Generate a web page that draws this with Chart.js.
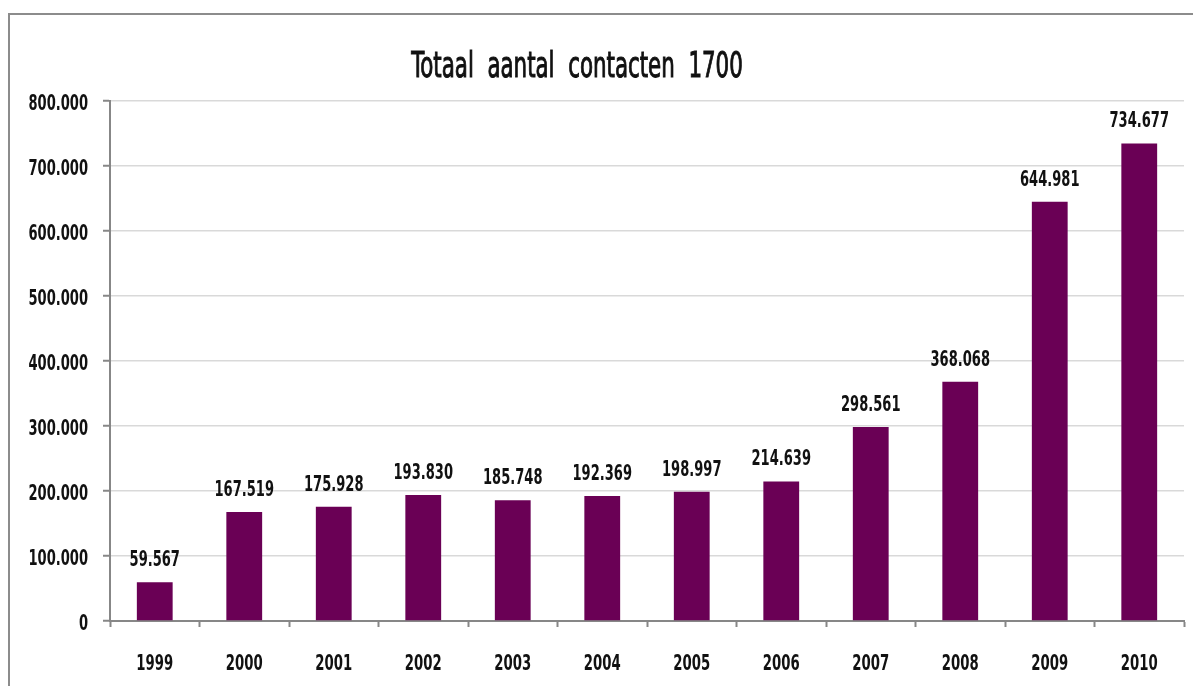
<!DOCTYPE html>
<html>
<head>
<meta charset="utf-8">
<script src="https://cdn.jsdelivr.net/npm/chart.js@4/dist/chart.umd.min.js"></script>
<style>
    html, body { margin: 0; padding: 0; background: #fff; }
    #wrap { position: relative; width: 1193px; height: 686px; overflow: hidden; }
    #frame {
        position: absolute; left: 8px; top: 13px;
        width: 1200px; height: 700px;
        border-left: 2px solid #8c8c8c; border-top: 2px solid #8c8c8c;
    }
    #chart { position: absolute; left: 0; top: 0; }
</style>
</head>
<body>
<div id="wrap">
    <div id="frame"></div>
    <canvas id="chart" width="1193" height="686"></canvas>
</div>
<script>
/* ================= DATA ================= */
const TITLE = "Totaal aantal contacten 1700";
const YEARS = ["1999", "2000", "2001", "2002", "2003", "2004",
               "2005", "2006", "2007", "2008", "2009", "2010"];
const CONTACTS = [59567, 167519, 175928, 193830, 185748, 192369,
                  198997, 214639, 298561, 368068, 644981, 734677];
const Y_TICKS = [0, 100000, 200000, 300000, 400000, 500000, 600000, 700000, 800000];

const FONT = "'DejaVu Sans Condensed', 'DejaVu Sans', sans-serif";
const BAR_COLOR = "#6a0055";
const AXIS_COLOR = "#878787";
const TEXT_COLOR = "#111";

// 800000 -> "800.000"
function fmt(v) {
    return String(Math.round(v)).replace(/\B(?=(\d{3})+(?!\d))/g, ".");
}

// squeezed text on the alphabetic baseline, gives a narrow typeface look
function narrowText(ctx, text, x, y, font, align, squeeze, stroke) {
    ctx.save();
    ctx.font = font + " " + FONT;
    ctx.fillStyle = TEXT_COLOR;
    ctx.strokeStyle = TEXT_COLOR;
    ctx.textAlign = align;
    ctx.textBaseline = "alphabetic";
    ctx.translate(x, y);
    ctx.scale(squeeze, 1);
    ctx.fillText(text, 0, 0);
    if (stroke) {
        ctx.lineWidth = stroke;
        ctx.strokeText(text, 0, 0);
    }
    ctx.restore();
}

/* ================= TEXT: TITLE, TICK LABELS, VALUE LABELS ================= */
const chartText = {
    id: "chartText",
    afterDraw(chart) {
        const ctx = chart.ctx;
        const xs = chart.scales.x;
        const ys = chart.scales.y;

        narrowText(ctx, TITLE.replace(/ /g, "  "), 577, 77, "36px", "center", 0.66, 1);

        Y_TICKS.forEach(v => {
            narrowText(ctx, fmt(v), xs.left - 22, ys.getPixelForValue(v) + 9,
                "bold 22px", "right", 0.66);
        });

        chart.data.labels.forEach((lab, i) => {
            narrowText(ctx, lab, xs.getPixelForValue(i), ys.bottom + 49,
                "bold 22px", "center", 0.67);
        });

        const meta = chart.getDatasetMeta(0);
        meta.data.forEach((bar, i) => {
            narrowText(ctx, fmt(chart.data.datasets[0].data[i]), bar.x, bar.y - 16,
                "bold 22px", "center", 0.66);
        });
    }
};

/* ================= CHART ================= */
new Chart(document.getElementById("chart"), {
    type: "bar",
    data: {
        labels: YEARS,
        datasets: [{
            data: CONTACTS,
            backgroundColor: BAR_COLOR,
            borderWidth: 0,
            barPercentage: 0.8,
            categoryPercentage: 0.5
        }]
    },
    options: {
        responsive: false,
        animation: false,
        layout: { padding: { left: 0, right: 9, top: 101, bottom: 0 } },
        plugins: {
            legend: { display: false },
            tooltip: { enabled: false },
            title: { display: false }
        },
        scales: {
            x: {
                grid: {
                    offset: true,
                    drawOnChartArea: false,
                    drawTicks: true,
                    tickLength: 6,
                    tickColor: AXIS_COLOR,
                    tickWidth: 2
                },
                border: { color: AXIS_COLOR, width: 2 },
                ticks: { display: false },
                afterFit(scale) { scale.height = 65; }
            },
            y: {
                min: 0,
                max: 800000,
                afterBuildTicks(scale) {
                    scale.ticks = Y_TICKS.map(v => ({ value: v }));
                },
                grid: {
                    color: "#d9d9d9",
                    lineWidth: 1.5,
                    tickLength: 7,
                    tickColor: AXIS_COLOR,
                    tickWidth: 2
                },
                border: { color: AXIS_COLOR, width: 2 },
                ticks: { display: false },
                afterFit(scale) { scale.width = 110; }
            }
        }
    },
    plugins: [chartText]
});
</script>
</body>
</html>
